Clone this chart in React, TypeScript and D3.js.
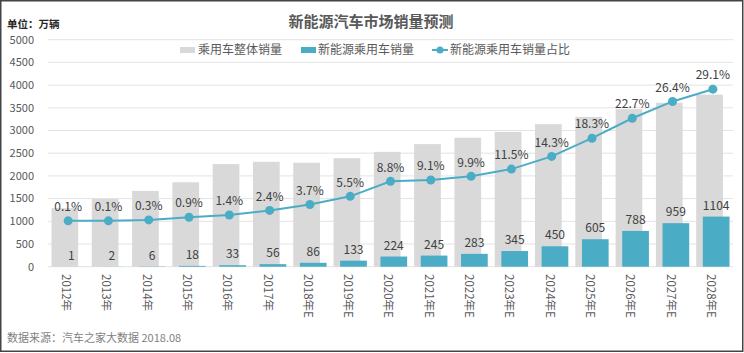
import { useRef, useEffect } from "react";
import * as d3 from "d3";

const years = [
  "2012年", "2013年", "2014年", "2015年", "2016年", "2017年", "2018年E", "2019年E",
  "2020年E", "2021年E", "2022年E", "2023年E", "2024年E", "2025年E", "2026年E", "2027年E", "2028年E",
];
const totalSales = [1290, 1490, 1670, 1860, 2260, 2310, 2290, 2390, 2530, 2700, 2840, 2970, 3140, 3300, 3470, 3610, 3790];
const nevSales = [1, 2, 6, 18, 33, 56, 86, 133, 224, 245, 283, 345, 450, 605, 788, 959, 1104];
const nevShare = [0.1, 0.1, 0.3, 0.9, 1.4, 2.4, 3.7, 5.5, 8.8, 9.1, 9.9, 11.5, 14.3, 18.3, 22.7, 26.4, 29.1];
const yTicks = [0, 500, 1000, 1500, 2000, 2500, 3000, 3500, 4000, 4500, 5000];

const W = 744;
const H = 353;
const GRAY = "#d9d9d9";
const BLUE = "#4bacc6";
const TEXT = "#595959";
const FONT = "'Noto Sans CJK SC', 'Noto Sans', sans-serif";

export default function App() {
  const svgRef = useRef<SVGSVGElement>(null);

  useEffect(() => {
    if (!svgRef.current) return;
    const svg = d3.select(svgRef.current);
    svg.selectAll("*").remove();

    const left = 48, right = 733, top = 39.7, bottom = 266.7;

    const x = d3.scaleBand<string>().domain(years).range([left, right]);
    const y = d3.scaleLinear().domain([0, 5000]).range([bottom, top]);
    // hidden secondary axis for the share line
    const y2 = d3.scaleLinear().domain([-10, 40]).range([bottom, top]);

    const step = x.step();
    const barW = 26.7;
    const off = 3.3;

    svg.append("rect").attr("width", W).attr("height", H).attr("fill", "#fff");

    // gridlines
    svg.append("g")
      .selectAll("line")
      .data(yTicks)
      .join("line")
      .attr("x1", left).attr("x2", right)
      .attr("y1", (d) => y(d)).attr("y2", (d) => y(d))
      .attr("stroke", "#e3e3e3").attr("stroke-width", 1);

    // y labels
    svg.append("g")
      .selectAll("text")
      .data(yTicks)
      .join("text")
      .attr("x", 34).attr("y", (d) => y(d)).attr("dy", "0.35em")
      .attr("text-anchor", "end")
      .attr("fill", TEXT).attr("font-size", "11px").attr("font-family", FONT)
      .text((d) => d);

    const cx = (i: number) => (x(years[i]) ?? 0) + step / 2;

    // total bars
    svg.append("g")
      .selectAll("rect")
      .data(totalSales)
      .join("rect")
      .attr("x", (_, i) => cx(i) - off - barW / 2)
      .attr("y", (d) => y(d))
      .attr("width", barW)
      .attr("height", (d) => bottom - y(d))
      .attr("fill", GRAY);

    // NEV bars
    svg.append("g")
      .selectAll("rect")
      .data(nevSales)
      .join("rect")
      .attr("x", (_, i) => cx(i) + off - barW / 2)
      .attr("y", (d) => y(d))
      .attr("width", barW)
      .attr("height", (d) => bottom - y(d))
      .attr("fill", BLUE);

    // NEV labels
    svg.append("g")
      .selectAll("text")
      .data(nevSales)
      .join("text")
      .attr("x", (_, i) => cx(i) + off)
      .attr("y", (d) => y(d) - 11).attr("dy", "0.35em")
      .attr("text-anchor", "middle")
      .attr("fill", "#404040").attr("font-size", "12px").attr("font-family", FONT)
      .text((d) => d);

    // share line
    const line = d3.line<number>()
      .x((_, i) => cx(i))
      .y((d) => y2(d));
    svg.append("path")
      .datum(nevShare)
      .attr("d", line)
      .attr("fill", "none")
      .attr("stroke", BLUE)
      .attr("stroke-width", 2);

    svg.append("g")
      .selectAll("circle")
      .data(nevShare)
      .join("circle")
      .attr("cx", (_, i) => cx(i))
      .attr("cy", (d) => y2(d))
      .attr("r", 4.5)
      .attr("fill", BLUE);

    svg.append("g")
      .selectAll("text")
      .data(nevShare)
      .join("text")
      .attr("x", (_, i) => cx(i))
      .attr("y", (d) => y2(d) - 14).attr("dy", "0.35em")
      .attr("text-anchor", "middle")
      .attr("fill", "#404040").attr("font-size", "12px").attr("font-family", FONT)
      .text((d) => d.toFixed(1) + "%");

    // x labels
    svg.append("g")
      .selectAll("text")
      .data(years)
      .join("text")
      .attr("transform", (d, i) => `translate(${cx(i) - 2},274) rotate(90)`)
      .attr("dy", "0.35em")
      .attr("fill", TEXT).attr("font-size", "11.5px").attr("font-family", FONT)
      .text((d) => d);

    // title
    svg.append("text")
      .attr("x", 371).attr("y", 22).attr("dy", "0.35em")
      .attr("text-anchor", "middle")
      .attr("fill", TEXT).attr("font-size", "15px").attr("font-weight", "bold")
      .attr("font-family", FONT)
      .text("新能源汽车市场销量预测");

    svg.append("text")
      .attr("x", 7).attr("y", 24).attr("dy", "0.35em")
      .attr("fill", "#262626").attr("font-size", "10.5px").attr("font-weight", "bold")
      .attr("font-family", FONT)
      .text("单位：万辆");

    // legend
    const lg = svg.append("g").attr("font-family", FONT).attr("font-size", "12px").attr("fill", TEXT);
    lg.append("rect").attr("x", 180).attr("y", 47).attr("width", 15).attr("height", 6).attr("fill", GRAY);
    lg.append("text").attr("x", 198).attr("y", 50).attr("dy", "0.35em").text("乘用车整体销量");
    lg.append("rect").attr("x", 301).attr("y", 47).attr("width", 15).attr("height", 6).attr("fill", BLUE);
    lg.append("text").attr("x", 318).attr("y", 50).attr("dy", "0.35em").text("新能源乘用车销量");
    lg.append("line").attr("x1", 432).attr("x2", 448).attr("y1", 50).attr("y2", 50)
      .attr("stroke", BLUE).attr("stroke-width", 2);
    lg.append("circle").attr("cx", 440).attr("cy", 50).attr("r", 3.5).attr("fill", BLUE);
    lg.append("text").attr("x", 450).attr("y", 50).attr("dy", "0.35em").text("新能源乘用车销量占比");

    // source
    svg.append("text")
      .attr("x", 7).attr("y", 338).attr("dy", "0.35em")
      .attr("fill", "#7f7f7f").attr("font-size", "11px").attr("font-family", FONT)
      .text("数据来源：汽车之家大数据 2018.08");

    // frame
    svg.append("rect")
      .attr("x", 0.75).attr("y", 0.75).attr("width", 742).attr("height", 350.5)
      .attr("fill", "none").attr("stroke", "#444").attr("stroke-width", 1.5);
  }, []);

  return (
    <svg
      ref={svgRef}
      width={W}
      height={H}
      style={{ position: "absolute", left: 0, top: 0, display: "block" }}
    />
  );
}
